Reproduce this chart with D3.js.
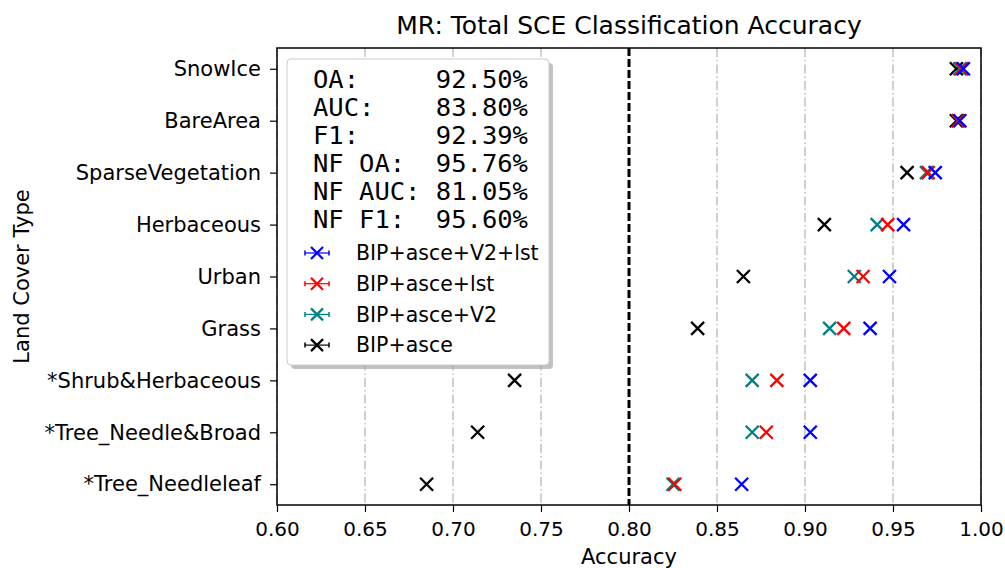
<!DOCTYPE html>
<html>
<head>
<meta charset="utf-8">
<script src="https://cdn.jsdelivr.net/npm/d3@7"></script>
<style>
  body { margin: 0; background: #fff; }
  svg text { font-family: "DejaVu Sans", sans-serif; fill: #000; }
</style>
</head>
<body>
<div id="chart"></div>
<script>
// categories, top to bottom
const categories = ["SnowIce", "BareArea", "SparseVegetation", "Herbaceous", "Urban",
    "Grass", "*Shrub&Herbaceous", "*Tree_Needle&Broad", "*Tree_Needleleaf"]

const seriesNames = ["BIP+asce+V2+lst", "BIP+asce+lst", "BIP+asce+V2", "BIP+asce"]
const seriesColors = ["blue", "red", "teal", "black"]

// accuracy per category, same order as categories
const accV2Lst = [0.990, 0.988, 0.974, 0.956, 0.948, 0.937, 0.903, 0.903, 0.864]
const accLst   = [0.989, 0.987, 0.970, 0.947, 0.933, 0.922, 0.884, 0.878, 0.826]
const accV2    = [0.988, 0.987, 0.969, 0.941, 0.928, 0.914, 0.870, 0.870, 0.825]
const accBase  = [0.986, 0.986, 0.958, 0.911, 0.865, 0.839, 0.735, 0.714, 0.685]

const xTicks = [0.60, 0.65, 0.70, 0.75, 0.80, 0.85, 0.90, 0.95, 1.00]
const threshold = 0.80

const metricLines = [
    "OA:     92.50%",
    "AUC:    83.80%",
    "F1:     92.39%",
    "NF OA:  95.76%",
    "NF AUC: 81.05%",
    "NF F1:  95.60%",
]

const seriesValues = [accV2Lst, accLst, accV2, accBase]

//Set Dimensions
let dimensions = {
    width: 1005,
    height: 568,
    margin: { top: 48, right: 24, bottom: 63, left: 277 },
}
dimensions.boundedWidth = dimensions.width - dimensions.margin.left - dimensions.margin.right
dimensions.boundedHeight = dimensions.height - dimensions.margin.top - dimensions.margin.bottom

const svg = d3.select("#chart").append("svg")
    .attr("width", dimensions.width)
    .attr("height", dimensions.height)

const bounds = svg.append("g")
    .attr("transform", `translate(${dimensions.margin.left},${dimensions.margin.top})`)

//Scales
const xScale = d3.scaleLinear()
    .domain([0.60, 1.00])
    .range([0, dimensions.boundedWidth])

const yScale = d3.scalePoint()
    .domain(categories)
    .range([0, dimensions.boundedHeight])
    .padding(0.4)

//Grid
bounds.selectAll(".grid")
    .data(xTicks.filter(t => t !== threshold))
    .join("line")
        .attr("class", "grid")
        .attr("x1", d => xScale(d)).attr("x2", d => xScale(d))
        .attr("y1", 0).attr("y2", dimensions.boundedHeight)
        .attr("stroke", "#a8a8a8")
        .attr("stroke-width", 1.1)
        .attr("stroke-dasharray", "9,3,1.5,3")

bounds.append("line")
    .attr("x1", xScale(threshold)).attr("x2", xScale(threshold))
    .attr("y1", 0).attr("y2", dimensions.boundedHeight)
    .attr("stroke", "black")
    .attr("stroke-width", 3)
    .attr("stroke-dasharray", "8,3")

//Markers (drawn from last series so blue ends on top)
const xPath = s => `M${-s},${-s}L${s},${s}M${-s},${s}L${s},${-s}`
const drawOrder = [3, 2, 1, 0]
drawOrder.forEach(i => {
    bounds.append("g")
        .selectAll("path")
        .data(categories.map((c, j) => ({ cat: c, v: seriesValues[i][j] })))
        .join("path")
            .attr("transform", d => `translate(${xScale(d.v)},${yScale(d.cat)})`)
            .attr("d", xPath(6.5))
            .attr("stroke", seriesColors[i])
            .attr("stroke-width", 2.3)
            .attr("fill", "none")
})

//Axes
const xAxis = bounds.append("g")
    .attr("transform", `translate(0,${dimensions.boundedHeight})`)
    .call(d3.axisBottom(xScale).tickValues(xTicks).tickFormat(d3.format(".2f"))
        .tickSizeInner(7).tickSizeOuter(0).tickPadding(10))
xAxis.select(".domain").remove()
xAxis.selectAll("text").style("font-size", "20px")
xAxis.selectAll("line").attr("stroke-width", 1.2)

const yAxis = bounds.append("g")
    .call(d3.axisLeft(yScale).tickSizeInner(7).tickSizeOuter(0).tickPadding(9))
yAxis.select(".domain").remove()
yAxis.selectAll("text").style("font-size", "21px")
yAxis.selectAll("line").attr("stroke-width", 1.2)

// frame
bounds.append("rect")
    .attr("width", dimensions.boundedWidth)
    .attr("height", dimensions.boundedHeight)
    .attr("fill", "none")
    .attr("stroke", "black")
    .attr("stroke-width", 1.5)

//Labels
svg.append("text")
    .attr("x", dimensions.margin.left + dimensions.boundedWidth / 2)
    .attr("y", 34)
    .attr("text-anchor", "middle")
    .style("font-size", "25px")
    .text("MR: Total SCE Classification Accuracy")

svg.append("text")
    .attr("x", dimensions.margin.left + dimensions.boundedWidth / 2)
    .attr("y", 564)
    .attr("text-anchor", "middle")
    .style("font-size", "21px")
    .text("Accuracy")

svg.append("text")
    .attr("transform", `translate(29,${dimensions.margin.top + dimensions.boundedHeight / 2}) rotate(-90)`)
    .attr("text-anchor", "middle")
    .style("font-size", "21px")
    .text("Land Cover Type")

//Legend
const legend = svg.append("g").attr("transform", "translate(287,59)")
const legendW = 262, legendH = 306
legend.append("rect")
    .attr("x", 4).attr("y", 4)
    .attr("width", legendW).attr("height", legendH)
    .attr("rx", 4)
    .attr("fill", "#9a9a9a")
    .attr("opacity", 0.6)
legend.append("rect")
    .attr("width", legendW).attr("height", legendH)
    .attr("rx", 4)
    .attr("fill", "white")
    .attr("stroke", "#cccccc")
    .attr("stroke-width", 1)

legend.selectAll(".metric")
    .data(metricLines)
    .join("text")
        .attr("class", "metric")
        .attr("x", 26)
        .attr("y", (d, i) => 29 + i * 28)
        .attr("xml:space", "preserve")
        .style("white-space", "pre")
        .style("font-family", "'DejaVu Sans Mono', monospace")
        .style("font-size", "25.5px")
        .text(d => d)

const entries = legend.selectAll(".entry")
    .data(seriesNames)
    .join("g")
        .attr("class", "entry")
        .attr("transform", (d, i) => `translate(30,${194 + i * 30.7})`)

entries.append("line")
    .attr("x1", -12).attr("x2", 12)
    .attr("stroke", (d, i) => seriesColors[i])
    .attr("stroke-width", 1.2)
entries.append("path")
    .attr("d", "M-12,-2.5L-12,2.5M12,-2.5L12,2.5")
    .attr("stroke", (d, i) => seriesColors[i])
    .attr("stroke-width", 1.5)
entries.append("path")
    .attr("d", xPath(6))
    .attr("stroke", (d, i) => seriesColors[i])
    .attr("stroke-width", 2.2)
entries.append("text")
    .attr("x", 39)
    .attr("dy", "0.35em")
    .style("font-size", "20.5px")
    .text(d => d)
</script>
</body>
</html>
